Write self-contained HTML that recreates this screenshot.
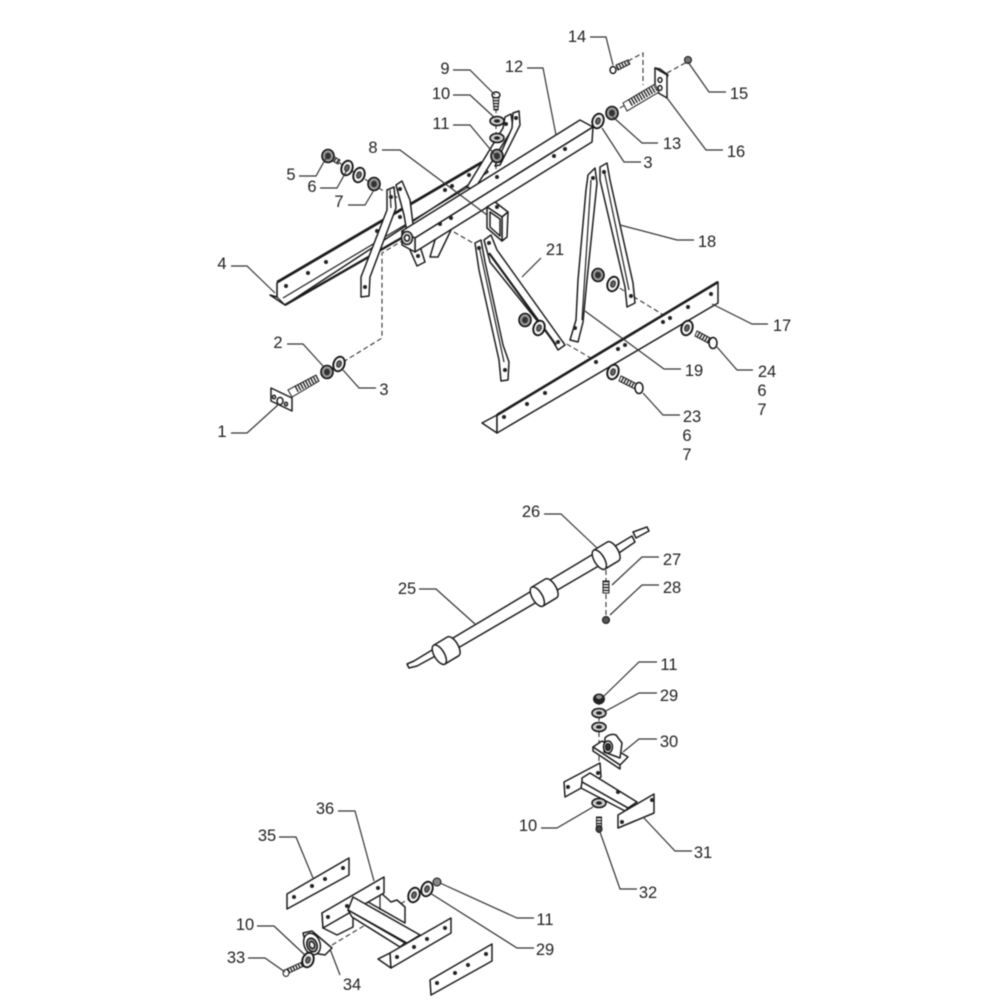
<!DOCTYPE html>
<html><head><meta charset="utf-8"><style>
html,body{margin:0;padding:0;background:#fff;width:1000px;height:1000px;overflow:hidden}
svg{display:block;filter:blur(.45px)}
text{font-family:"Liberation Sans",sans-serif;font-size:16.5px;fill:#222;text-anchor:middle}
.l{fill:none;stroke:#333;stroke-width:1.2}
.d{fill:none;stroke:#333;stroke-width:1.1;stroke-dasharray:5 3}
.p polygon,.p path,.p ellipse{fill:#fff;stroke:#1c1c1c;stroke-width:1.5;stroke-linejoin:round}
.p line{stroke:#1c1c1c;stroke-width:1.2}
.t line{stroke:#222;stroke-dasharray:1.4 1.5}
.s polygon{fill:#fff;stroke:#222;stroke-width:1}
</style></head><body>
<svg width="1000" height="1000" viewBox="0 0 1000 1000" xmlns="http://www.w3.org/2000/svg">
<defs>
<g id="w"><ellipse cx="0" cy="0" rx="5.5" ry="7.5" fill="#eee" stroke="#111" stroke-width="1.8" transform="rotate(20)"/><ellipse cx="0" cy="0" rx="2.2" ry="3.2" fill="#666" stroke="#222" transform="rotate(20)"/></g>
<g id="v"><ellipse cx="0" cy="0" rx="7" ry="4.5" fill="#ccc" stroke="#111" stroke-width="1.5"/><ellipse cx="0" cy="0" rx="3" ry="1.8" fill="#222"/></g>
<g id="n"><ellipse cx="0" cy="0" rx="6" ry="6.5" fill="#999" stroke="#111" stroke-width="1.6"/><ellipse cx="0" cy="0" rx="3" ry="3.4" fill="#333"/></g>
<g id="h"><circle r="2" fill="#222"/></g>
</defs>

<!-- dashed lines -->
<path class="d" d="M343,362L382,338V253L402,241"/>
<path class="d" d="M338,162L385,192M393,195L422,213M440,224L473,243"/>
<path class="d" d="M496,108V178"/>
<path class="d" d="M628,61L643,53V85M667,73L687,62M592,124L660,85"/>
<path class="d" d="M613,284L683,327M539,328L608,368"/>
<path class="d" d="M606,562V616"/>
<path class="d" d="M599,700V800"/>
<path class="d" d="M332,945L437,882"/>

<g class="p">
<!-- T-bar 4 -->
<polygon points="277,283 482,163 488,172 285,305 270,295 277,297"/>
<line x1="283" y1="298" x2="470" y2="186"/>
<line x1="277" y1="283" x2="277" y2="297"/>
<line x1="277" y1="297" x2="285" y2="305"/>
<line x1="277" y1="282" x2="482" y2="162" style="stroke-width:2.4"/>
<line x1="285" y1="305" x2="405" y2="236" style="stroke-width:2.4"/>

<!-- far arms -->
<polygon points="505,117 511,114 513,128 474,190 467,187 503,128"/>
<polygon points="513,113 519,111 520,125 500,165 495,166 512,128"/>
<polygon points="430,257 435,240 447,228 452,228 438,257"/>

<!-- near arm 2 -->
<polygon points="396,185 402,181 410,200 413,224 425,262 417,266 410,250 404,215"/>
<!-- near arm 1 -->
<polygon points="387,190 394,187 396,208 370,277 369,296 361,297 361,277 387,210"/>
<line x1="390" y1="190" x2="391" y2="208"/>

<!-- tube -->
<polygon points="402,231 415,238 593,127 580,120"/>
<polygon points="415,238 415,252 592,142 593,127"/>
<polygon points="402,231 415,238 415,252 402,245"/>
<ellipse cx="407" cy="238" rx="5.5" ry="6.5" style="fill:#ccc"/>
<ellipse cx="407" cy="238" rx="2.5" ry="3"/>

<!-- bracket 8 -->
<polygon points="487,207 495,202 508,212 502,217"/>
<polygon points="502,217 508,212 507,237 502,241"/>
<polygon points="487,207 502,217 502,241 487,228"/>
<polygon points="490,212 500,219 500,236 490,227"/>

<!-- arms 21 -->
<polygon points="475,243 481,240 485,262 503,345 509,362 508,380 501,381 499,360 479,270"/>
<line x1="479" y1="246" x2="504" y2="362"/>
<polygon points="484,240 491,235 497,250 565,345 558,350 551,338 490,262"/>
<line x1="489" y1="253" x2="556" y2="345" style="stroke-width:2.2"/>

<!-- arms 18/19 -->
<polygon points="588,175 595,168 597,183 587,280 583,322 578,342 570,340 576,320 578,280 586,190"/>
<line x1="591" y1="180" x2="582" y2="320"/>
<polygon points="600,167 607,163 610,180 633,283 635,303 627,307 625,287 600,180"/>
<line x1="604" y1="170" x2="629" y2="290"/>

<!-- T-bar 17 -->
<polygon points="482,423 497,415 497,433"/>
<polygon points="497,415 718,282 718,303 497,433"/>
<line x1="497" y1="415" x2="718" y2="282" style="stroke-width:2.6"/>

<!-- plate 1 -->
<polygon points="271,388 292,398 292,411 271,401"/>
<ellipse cx="280" cy="401" rx="3" ry="3.6"/>
<ellipse cx="274" cy="397" rx="1.5" ry="1.8"/>
<ellipse cx="286" cy="404" rx="1.5" ry="1.8"/>

<!-- plate 16 -->
<polygon points="655,68 660,69 668,75 667,77"/>
<polygon points="655,68 667,75 667,98 655,91"/>
<ellipse cx="660" cy="80" rx="2" ry="2.4"/>
<ellipse cx="660" cy="88" rx="2" ry="2.4"/>

<!-- shaft -->
<polygon points="414,661 407,664 409,668 417,666 441,653 437,647"/>
<polygon points="453,638 595,553 602,564 458,648"/>
<polygon points="612,548 632,536 635,542 616,555"/>
<polygon points="633,532 647,527 649,531 636,538"/>

<!-- bearing 30 -->
<polygon points="593,747 602,741 628,757 620,765"/>
<polygon points="593,747 620,765 620,769 593,751"/>
<path d="M604,752 L605,738 Q610,733 616,735 L622,743 L620,758 Z"/>
<ellipse cx="608" cy="747" rx="4.5" ry="6"/>
<ellipse cx="608" cy="747" rx="2.4" ry="3.4" style="fill:#333"/>

<!-- bracket 31 -->
<polygon points="564,782 600,763 601,777 565,797"/>
<polygon points="582,778 590,773 637,802 628,808 582,782"/>
<polygon points="582,782 628,808 625,811 581,788"/>
<polygon points="618,815 654,794 654,813 618,828"/>

<!-- part 36 -->
<polygon points="368,902 380,892 391,902 397,900 405,907 405,923"/>
<line x1="380" y1="892" x2="380" y2="910"/>
<polygon points="323,928 337,935 353,927 353,897 322,913"/>
<polygon points="322,913 384,877 384,893 323,928"/>
<polygon points="353,897 420,935 407,943 348,910"/>
<polygon points="348,910 405,943 400,947 352,917"/>
<polygon points="378,959 390,953 391,968"/>
<polygon points="390,953 451,918 451,933 391,968"/>

<!-- plates 35 -->
<polygon points="287,894 349,858 349,875 287,909"/>
<polygon points="430,980 492,944 492,961 431,995"/>

<!-- flange bearing 34 -->
<polygon points="303,933 312,931 332,948 325,955 308,952"/>
<ellipse cx="312" cy="944" rx="8" ry="11" transform="rotate(-20 312 944)"/>
<ellipse cx="312" cy="945" rx="5" ry="7" transform="rotate(-20 312 945)" style="fill:#999"/>
<ellipse cx="312" cy="945" rx="2.5" ry="3.5" transform="rotate(-20 312 945)" style="fill:#eee"/>
</g>

<!-- screw bodies -->
<g class="s">
<polygon points="288,390 316,375 319,381 292,397"/>
<polygon points="623,103 655,84 659,92 627,111"/>
<polygon points="621,376 637,384 635,389 619,381"/>
<polygon points="697,331 712,339 710,344 695,336"/>
<polygon points="616,65 628,60 630,64 618,70"/>
<polygon points="287,969 302,962 304,966 289,973"/>
<polygon points="493,97 499,97 498,110 494,110"/>
<polygon points="331,155 340,160 338,164 329,159"/>
<polygon points="603,581 609,581 609,593 603,593"/>
<polygon points="596.5,817 601.5,817 601.5,828 596.5,828"/>
</g>

<!-- threads -->
<g class="t">
<line x1="296" y1="389" x2="317" y2="378" stroke-width="7"/>
<line x1="630" y1="103" x2="656" y2="88" stroke-width="7"/>
<line x1="332" y1="158" x2="339" y2="162" stroke-width="5"/>
<line x1="496" y1="100" x2="496" y2="110" stroke-width="5"/>
<line x1="617" y1="68" x2="628" y2="62" stroke-width="5"/>
<line x1="698" y1="334" x2="710" y2="341" stroke-width="6"/>
<line x1="622" y1="379" x2="635" y2="386" stroke-width="6"/>
<line x1="606" y1="581" x2="606" y2="593" stroke-width="5"/>
<line x1="599" y1="817" x2="599" y2="828" stroke-width="5"/>
<line x1="288" y1="971" x2="303" y2="964" stroke-width="5"/>
</g>

<!-- rollers -->
<g class="p">
<g transform="translate(607,555) rotate(-31)"><path d="M-9,-11L7,-11A5,11 0 0 1 7,11L-9,11A5,11 0 0 1 -9,-11Z"/><path d="M-9,-11A5,11 0 0 1 -9,11"/></g>
<g transform="translate(545,592) rotate(-31)"><path d="M-9,-11L7,-11A5,11 0 0 1 7,11L-9,11A5,11 0 0 1 -9,-11Z"/><path d="M-9,-11A5,11 0 0 1 -9,11"/></g>
<g transform="translate(447,650) rotate(-31)"><path d="M-9,-11L7,-11A5,11 0 0 1 7,11L-9,11A5,11 0 0 1 -9,-11Z"/><path d="M-9,-11A5,11 0 0 1 -9,11"/></g>
</g>

<!-- washers, nuts, heads -->
<use href="#w" x="339" y="364"/><use href="#n" x="327" y="372"/>
<use href="#w" x="598" y="121"/><use href="#n" x="612" y="113"/>
<use href="#w" x="347" y="168"/><use href="#w" x="359" y="175"/><use href="#n" x="374" y="184"/>
<use href="#n" x="328" y="156"/>
<use href="#v" x="497" y="121"/><use href="#v" x="497" y="138"/>
<use href="#n" x="497" y="156"/>
<use href="#w" x="613" y="284"/><use href="#n" x="598" y="275"/>
<use href="#w" x="539" y="328"/><use href="#n" x="525" y="320"/>
<use href="#w" x="687" y="328"/><use href="#w" x="613" y="372"/>
<use href="#v" x="599" y="713"/><use href="#v" x="599" y="727"/><use href="#v" x="599" y="803"/>
<use href="#w" x="414" y="895"/><use href="#w" x="427" y="889"/>
<use href="#w" x="308" y="960"/>
<ellipse cx="599" cy="699" rx="6" ry="5.5" fill="#222"/><ellipse cx="599" cy="697" rx="3" ry="2" fill="#999"/>
<circle cx="688" cy="60" r="3.5" fill="#777" stroke="#111"/>
<circle cx="606" cy="620" r="3.5" fill="#555" stroke="#111"/>
<circle cx="437" cy="882" r="4" fill="#888" stroke="#111"/>
<ellipse cx="613" cy="70" rx="3" ry="3.5" fill="#fff" stroke="#111" stroke-width="1.4"/>
<ellipse cx="639" cy="388" rx="4" ry="5.5" fill="#fff" stroke="#111" stroke-width="1.5"/>
<ellipse cx="713" cy="343" rx="4" ry="5.5" fill="#fff" stroke="#111" stroke-width="1.5"/>
<ellipse cx="496" cy="95" rx="4" ry="3" fill="#fff" stroke="#111" stroke-width="1.4"/>
<ellipse cx="599" cy="829" rx="3" ry="3.5" fill="#444" stroke="#111"/>
<ellipse cx="286" cy="973" rx="3" ry="3.5" fill="#fff" stroke="#111"/>

<!-- holes -->
<g>
<use href="#h" x="286" y="286"/><use href="#h" x="308" y="273"/><use href="#h" x="326" y="262"/><use href="#h" x="377" y="231"/><use href="#h" x="400" y="217"/><use href="#h" x="445" y="190"/><use href="#h" x="452" y="186"/><use href="#h" x="469" y="175"/>
<use href="#h" x="440" y="224"/><use href="#h" x="451" y="218"/><use href="#h" x="554" y="156"/><use href="#h" x="565" y="149"/><use href="#h" x="497" y="177"/><use href="#h" x="497" y="207"/>
<use href="#h" x="504" y="417"/><use href="#h" x="527" y="404"/><use href="#h" x="545" y="393"/><use href="#h" x="596" y="362"/><use href="#h" x="618" y="349"/><use href="#h" x="625" y="345"/><use href="#h" x="663" y="322"/><use href="#h" x="670" y="318"/><use href="#h" x="688" y="307"/><use href="#h" x="711" y="294"/>
<use href="#h" x="294" y="897"/><use href="#h" x="312" y="886"/><use href="#h" x="325" y="879"/><use href="#h" x="343" y="868"/>
<use href="#h" x="437" y="983"/><use href="#h" x="455" y="973"/><use href="#h" x="468" y="965"/><use href="#h" x="486" y="954"/>
<use href="#h" x="328" y="917"/><use href="#h" x="347" y="906"/><use href="#h" x="378" y="888"/>
<use href="#h" x="397" y="957"/><use href="#h" x="414" y="947"/><use href="#h" x="427" y="939"/><use href="#h" x="445" y="928"/>
<use href="#h" x="365" y="287"/><use href="#h" x="391" y="197"/><use href="#h" x="400" y="189"/><use href="#h" x="418" y="256"/><use href="#h" x="479" y="248"/><use href="#h" x="489" y="243"/><use href="#h" x="505" y="370"/><use href="#h" x="558" y="342"/>
<use href="#h" x="593" y="178"/><use href="#h" x="604" y="172"/><use href="#h" x="631" y="296"/><use href="#h" x="575" y="328"/><use href="#h" x="506" y="124"/><use href="#h" x="516" y="118"/>
<use href="#h" x="568" y="787"/><use href="#h" x="622" y="822"/><use href="#h" x="652" y="800"/><use href="#h" x="618" y="792"/><use href="#h" x="598" y="773"/>
</g>

<!-- leaders -->
<g class="l">
<path d="M590,37H606L613,65"/><path d="M453,70H470L495,95"/><path d="M453,95H470L495,118"/><path d="M453,125H470L495,155"/>
<path d="M527,68H543L556,135"/><path d="M382,150H400L487,215"/><path d="M299,176H316L326,158"/><path d="M320,188H337L347,170"/>
<path d="M348,205H365L374,190"/><path d="M231,266H247L275,293"/><path d="M688,62L709,92H726"/><path d="M613,117L642,143H658"/>
<path d="M602,128L624,162H641"/><path d="M667,98L706,150H723"/><path d="M620,225L677,240H694"/><path d="M522,277L541,258"/>
<path d="M712,304L752,324H768"/><path d="M585,311L664,369H681"/><path d="M717,347L737,370H753"/><path d="M643,393L663,415H680"/>
<path d="M287,344H303L323,366"/><path d="M343,370L359,388H376"/><path d="M231,433H247L279,404"/>
<path d="M544,514H561L597,548"/><path d="M659,557H642L612,585"/><path d="M659,585H642L610,615"/><path d="M419,589H436L475,624"/>
<path d="M657,662H639L603,697"/><path d="M657,693H639L604,712"/><path d="M657,739H639L623,752"/><path d="M541,828H557L593,807"/>
<path d="M643,817L675,851H692"/><path d="M600,832L620,889H637"/>
<path d="M338,811H355L374,881"/><path d="M279,837H296L313,878"/><path d="M257,926H274L306,956"/><path d="M248,958H265L285,972"/>
<path d="M330,949L340,975"/><path d="M440,883L517,918H534"/><path d="M430,893L517,948H534"/>
</g>

<!-- labels -->
<text x="577" y="42">14</text><text x="445" y="74">9</text><text x="441" y="99">10</text><text x="441" y="129">11</text>
<text x="514" y="72">12</text><text x="373" y="153">8</text><text x="291" y="180">5</text><text x="312" y="192">6</text>
<text x="339" y="207">7</text><text x="222" y="269">4</text><text x="739" y="99">15</text><text x="672" y="149">13</text>
<text x="648" y="168">3</text><text x="736" y="157">16</text><text x="707" y="247">18</text><text x="555" y="255">21</text>
<text x="782" y="331">17</text><text x="694" y="376">19</text><text x="767" y="377">24</text><text x="762" y="396">6</text><text x="762" y="415">7</text>
<text x="692" y="422">23</text><text x="687" y="441">6</text><text x="687" y="460">7</text>
<text x="278" y="348">2</text><text x="384" y="395">3</text><text x="222" y="437">1</text>
<text x="531" y="517">26</text><text x="672" y="565">27</text><text x="672" y="593">28</text><text x="407" y="594">25</text>
<text x="669" y="670">11</text><text x="669" y="701">29</text><text x="669" y="747">30</text><text x="528" y="831">10</text><text x="703" y="858">31</text><text x="648" y="898">32</text>
<text x="325" y="814">36</text><text x="267" y="841">35</text><text x="245" y="930">10</text><text x="236" y="963">33</text><text x="352" y="990">34</text>
<text x="545" y="925">11</text><text x="545" y="955">29</text>
</svg>
</body></html>
